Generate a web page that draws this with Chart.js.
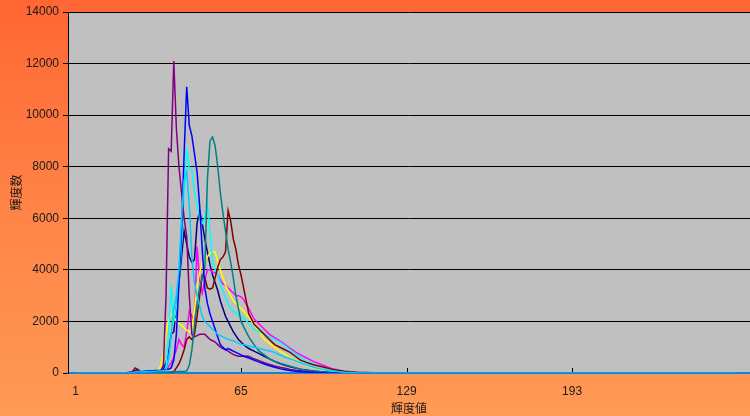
<!DOCTYPE html>
<html>
<head>
<meta charset="utf-8">
<script src="https://cdn.jsdelivr.net/npm/chart.js@4.4.1/dist/chart.umd.min.js"></script>
<style>
  html, body { margin: 0; padding: 0; }
  body { width: 750px; height: 416px; overflow: hidden; }
  #wrap { position: relative; width: 750px; height: 416px; background: linear-gradient(180deg, #FF6633 0%, #FF8347 50%, #FF9A55 100%); }
</style>
</head>
<body>
<div id="wrap"><canvas id="c"></canvas></div>
<script>
// brightness histogram, several images overlaid (輝度値 vs 輝度数)
const X = [1, 20, 23, 24, 25, 26, 27, 28, 30, 32, 33, 34, 35, 36, 37, 38, 39, 40, 41, 42, 43, 44, 45, 46, 47, 48, 49, 50, 51, 52, 53, 54, 55, 56, 57, 58, 59, 60, 61, 62, 63, 64, 65, 66, 68, 70, 72, 74, 76, 78, 80, 82, 84, 86, 88, 90, 93, 96, 100, 105, 110, 120, 256];
const X_TICKS = [1, 65, 129, 193];
const Y_TICKS = [0, 2000, 4000, 6000, 8000, 10000, 12000, 14000];

const navy = [0, 0, 20, 60, 80, 50, 40, 60, 80, 100, 90, 100, 150, 400, 800, 1500, 1600, 2500, 3500, 4500, 5500, 5000, 4500, 4300, 4400, 5800, 6300, 5800, 5200, 4700, 4200, 3800, 3500, 3200, 2800, 2500, 2200, 2000, 1800, 1600, 1450, 1300, 1200, 1100, 950, 850, 750, 650, 550, 450, 370, 300, 240, 190, 150, 120, 80, 50, 25, 10, 0, 0, 0];
const magenta = [0, 0, 0, 30, 40, 30, 20, 20, 30, 40, 50, 60, 80, 100, 250, 400, 600, 900, 1300, 1100, 1000, 1600, 2400, 2200, 2000, 4900, 3600, 3100, 3600, 4000, 4000, 3900, 3900, 3800, 3600, 3450, 3400, 3300, 3200, 3100, 3000, 3000, 2950, 2850, 2500, 2100, 1900, 1700, 1500, 1370, 1250, 1100, 950, 820, 700, 600, 450, 330, 180, 50, 10, 0, 0];
const yellow = [0, 0, 0, 20, 30, 30, 20, 20, 30, 40, 60, 300, 800, 1500, 2100, 2300, 2200, 2000, 1900, 1850, 1750, 1650, 1600, 1700, 2400, 3400, 3900, 4300, 4400, 4500, 4650, 4700, 4700, 4300, 4000, 3700, 3400, 3200, 3000, 2800, 2700, 2600, 2500, 2400, 2150, 1900, 1600, 1300, 1150, 1000, 850, 720, 600, 500, 400, 300, 200, 140, 60, 20, 0, 0, 0];
const cyan = [0, 0, 0, 30, 50, 40, 30, 30, 40, 50, 60, 80, 100, 200, 1500, 3400, 2000, 2500, 3500, 5000, 7000, 8700, 7900, 7900, 7000, 6600, 6000, 5800, 6000, 6500, 5500, 4300, 4000, 3800, 3500, 3200, 2900, 2700, 2500, 2400, 2300, 2250, 2200, 2150, 1900, 1700, 1600, 1500, 1400, 1300, 1200, 1050, 900, 750, 600, 480, 350, 230, 120, 50, 15, 0, 0];
const purple = [0, 0, 50, 200, 150, 60, 40, 50, 60, 70, 60, 80, 300, 3000, 8700, 8600, 12100, 9500, 8000, 7000, 6000, 5300, 3000, 1500, 1400, 1450, 1500, 1500, 1500, 1400, 1300, 1250, 1200, 1100, 1000, 950, 900, 850, 780, 720, 680, 650, 650, 660, 650, 550, 480, 400, 330, 270, 220, 180, 140, 110, 90, 70, 50, 30, 15, 0, 0, 0, 0];
const darkRed = [0, 0, 0, 100, 120, 50, 30, 30, 40, 40, 30, 30, 20, 20, 30, 30, 50, 200, 350, 600, 900, 1300, 1400, 1300, 1500, 2200, 3000, 3800, 3700, 3300, 3250, 3300, 3700, 4100, 4400, 4500, 4700, 6300, 5900, 5200, 4800, 4200, 3800, 3300, 2300, 1900, 1700, 1500, 1300, 1100, 1000, 900, 800, 650, 500, 420, 320, 250, 150, 70, 30, 0, 0];
const teal = [0, 0, 0, 20, 30, 30, 20, 20, 20, 20, 20, 20, 20, 30, 30, 40, 40, 50, 60, 60, 60, 80, 300, 900, 1800, 2700, 3300, 3700, 4100, 7500, 9000, 9150, 8800, 8000, 7000, 6200, 5500, 4800, 4300, 3700, 3000, 2500, 2000, 1800, 1400, 1100, 850, 700, 550, 450, 380, 320, 260, 200, 150, 110, 70, 40, 20, 0, 0, 0, 0];
const blue = [0, 0, 0, 30, 50, 60, 60, 70, 80, 90, 100, 100, 120, 150, 150, 200, 500, 1500, 3500, 5500, 8500, 11100, 9600, 9200, 8500, 7800, 6500, 4800, 3300, 2700, 2300, 2000, 1700, 1400, 1100, 1000, 900, 950, 900, 850, 800, 750, 700, 650, 580, 500, 420, 350, 280, 220, 170, 130, 100, 70, 50, 35, 20, 10, 0, 0, 0, 0, 0];
const skyBlue = [0, 0, 0, 40, 60, 50, 40, 50, 60, 70, 80, 80, 100, 100, 500, 1500, 2500, 3000, 4000, 6000, 7500, 7800, 6500, 4500, 3500, 3000, 2600, 2200, 2000, 1900, 1800, 1700, 1600, 1500, 1450, 1400, 1350, 1300, 1280, 1250, 1200, 1150, 1120, 1100, 1050, 1000, 950, 900, 850, 800, 700, 620, 550, 480, 400, 320, 220, 150, 80, 30, 10, 0, 0];

const SERIES = [
  { vals: navy, color: '#000080' },
  { vals: magenta, color: '#FF00FF' },
  { vals: yellow, color: '#FFFF00' },
  { vals: cyan, color: '#00FFFF' },
  { vals: purple, color: '#800080' },
  { vals: darkRed, color: '#800000' },
  { vals: teal, color: '#008080' },
  { vals: blue, color: '#0000FF' },
  { vals: skyBlue, color: '#00CCFF' }
];

const TXT = '#1a1a1a';
const LAT = "'Liberation Sans', Arial, sans-serif";
const JP = "'Noto Sans CJK JP', 'Noto Sans', sans-serif";

const plotBg = {
  id: 'plotBg',
  beforeDraw(chart) {
    const a = chart.chartArea, ctx = chart.ctx;
    ctx.save();
    ctx.fillStyle = '#C0C0C0';
    ctx.fillRect(a.left, a.top, a.right - a.left, a.bottom - a.top);
    ctx.restore();
  }
};

// small inward tick marks on the category axis
const innerTicks = {
  id: 'innerTicks',
  afterDatasetsDraw(chart) {
    const sx = chart.scales.x, ctx = chart.ctx, b = chart.chartArea.bottom;
    ctx.save();
    ctx.strokeStyle = '#000';
    ctx.lineWidth = 1;
    X_TICKS.slice(1).forEach(v => {
      const px = Math.round(sx.getPixelForValue(v)) + 0.5;
      ctx.beginPath(); ctx.moveTo(px, b - 5); ctx.lineTo(px, b - 1); ctx.stroke();
    });
    ctx.restore();
  }
};

new Chart(document.getElementById('c'), {
  type: 'line',
  data: {
    datasets: SERIES.map((s, i) => ({
      data: X.map((x, j) => ({ x, y: s.vals[j] })),
      borderColor: s.color,
      backgroundColor: s.color,
      borderWidth: 1.5,
      pointRadius: 0,
      tension: 0,
      order: SERIES.length - i
    }))
  },
  options: {
    responsive: true, maintainAspectRatio: false, animation: false,
    layout: { padding: { top: 12, left: 0, right: 0, bottom: 0 } },
    plugins: { legend: { display: false }, tooltip: { enabled: false } },
    scales: {
      x: {
        type: 'linear', min: -1.9, max: 261.8,
        afterBuildTicks: s => { s.ticks = X_TICKS.map(v => ({ value: v })); },
        afterFit: s => { s.height = 43; },
        grid: { display: false, drawTicks: false },
        border: { display: true, color: '#0A88E0', width: 2 },
        ticks: { padding: 11, maxRotation: 0, autoSkip: false, color: TXT, font: { family: LAT, size: 12 }, callback: v => String(v) },
        title: { display: true, text: '輝度値', color: TXT, font: { family: JP, size: 12 }, padding: { top: 0, bottom: 0 } }
      },
      y: {
        min: 0, max: 14000,
        afterBuildTicks: s => { s.ticks = Y_TICKS.map(v => ({ value: v })); },
        afterFit: s => { s.width = 68; },
        grid: { color: '#000', lineWidth: 1, drawTicks: true, tickLength: 5 },
        border: { display: true, color: '#000', width: 1 },
        ticks: { padding: 4, color: TXT, font: { family: LAT, size: 12 }, callback: v => String(v) },
        title: { display: true, text: '輝度数', color: TXT, font: { family: JP, size: 12 }, padding: { top: 9, bottom: 0 } }
      }
    }
  },
  plugins: [plotBg, innerTicks]
});
</script>
</body>
</html>
